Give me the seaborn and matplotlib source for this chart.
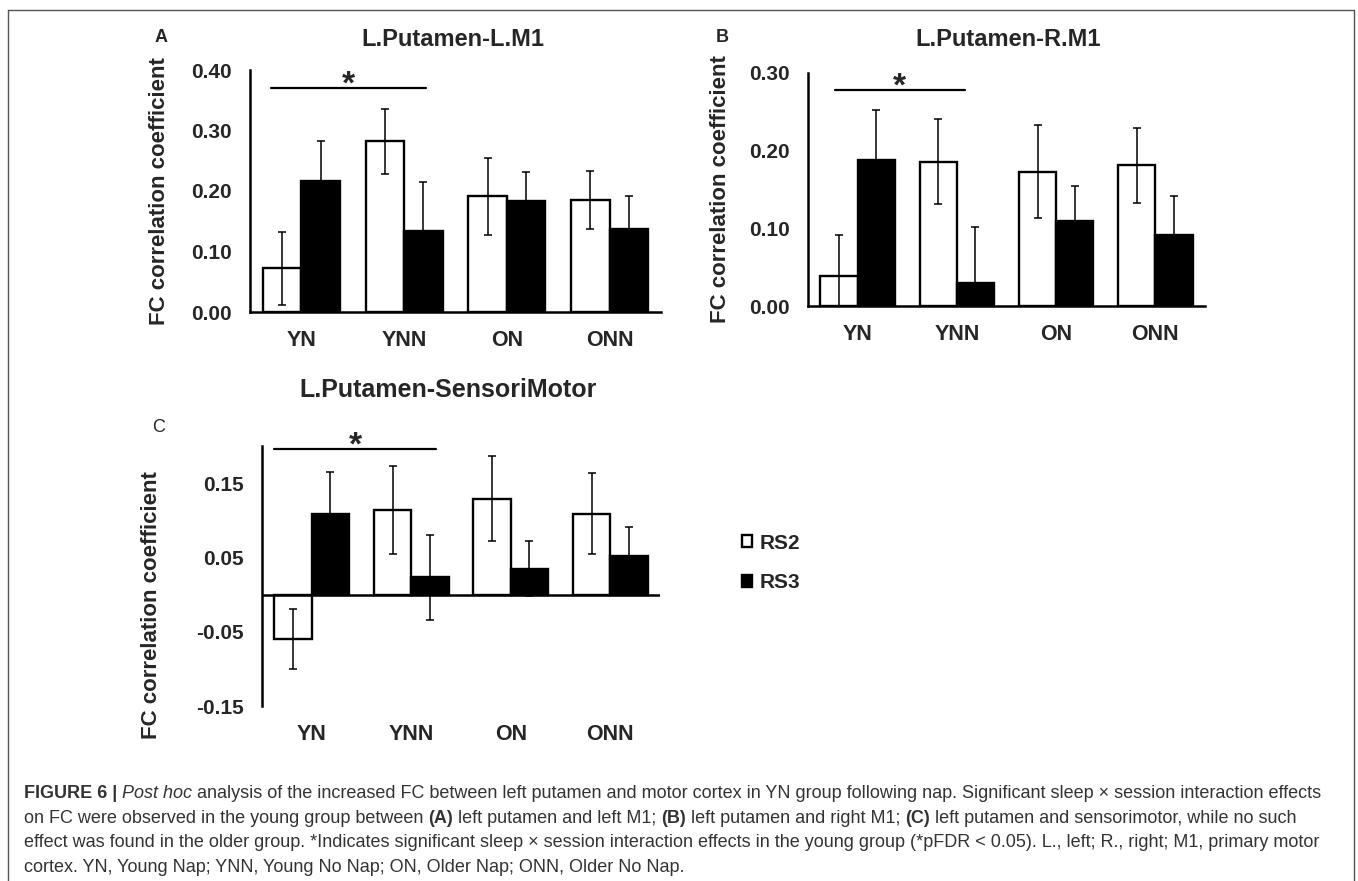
import numpy as np
import pandas as pd
import matplotlib
matplotlib.use('Agg')
import matplotlib.pyplot as plt
from matplotlib.lines import Line2D
import seaborn as sns

groups = ['YN', 'YNN', 'ON', 'ONN']
sessions = ['RS2', 'RS3']

# panel A: L.Putamen-L.M1
a_rs2 = [0.072, 0.282, 0.191, 0.185]
a_rs2_err = [0.060, 0.054, 0.063, 0.048]
a_rs3 = [0.216, 0.134, 0.184, 0.137]
a_rs3_err = [0.066, 0.081, 0.048, 0.055]

# panel B: L.Putamen-R.M1
b_rs2 = [0.038, 0.186, 0.173, 0.181]
b_rs2_err = [0.053, 0.055, 0.060, 0.048]
b_rs3 = [0.188, 0.030, 0.109, 0.092]
b_rs3_err = [0.064, 0.072, 0.046, 0.049]

# panel C: L.Putamen-SensoriMotor
c_rs2 = [-0.060, 0.114, 0.129, 0.109]
c_rs2_err = [0.040, 0.059, 0.057, 0.055]
c_rs3 = [0.109, 0.023, 0.035, 0.052]
c_rs3_err = [0.056, 0.057, 0.037, 0.039]

a_ticks = [0.0, 0.1, 0.2, 0.3, 0.4]
b_ticks = [0.0, 0.1, 0.2, 0.3]
c_ticks = [-0.15, -0.05, 0.05, 0.15]

sns.set_style('white')
plt.rcParams['font.family'] = ['Liberation Sans', 'DejaVu Sans']

W, H = 1358, 881
fig = plt.figure(figsize=(W / 100, H / 100), dpi=100)


def px_axes(left, top, right, bottom):
    return fig.add_axes([left / W, 1 - bottom / H, (right - left) / W, (bottom - top) / H])


def panel(ax, rs2, rs3, err2, err3, ylim, yticks, title, title_xy, title_size, legend=False):
    df = pd.DataFrame({'group': groups * 2,
                       'session': ['RS2'] * 4 + ['RS3'] * 4,
                       'value': rs2 + rs3})
    sns.barplot(data=df, x='group', y='value', hue='session', order=groups,
                hue_order=sessions, palette={'RS2': 'white', 'RS3': 'black'},
                edgecolor='black', linewidth=1.7, width=0.75, errorbar=None,
                legend=legend, ax=ax)
    bars = list(ax.containers)
    for cont, errs in zip(bars, [err2, err3]):
        xs = [b.get_x() + b.get_width() / 2 for b in cont]
        ys = [b.get_height() for b in cont]
        ax.errorbar(xs, ys, yerr=errs, fmt='none', ecolor='black',
                    elinewidth=1.1, capsize=2.6, capthick=1.1, zorder=3)
    ax.set_xlim(-0.5, 3.5)
    ax.set_ylim(*ylim)
    ax.set_yticks(yticks)
    ax.set_yticklabels([f'{t:.2f}' for t in yticks])
    sns.despine(ax=ax)
    ax.spines['left'].set_linewidth(1.8)
    ax.spines['bottom'].set_linewidth(1.8)
    ax.spines['left'].set_color('black')
    ax.spines['bottom'].set_color('black')
    ax.tick_params(axis='y', length=0, pad=13, labelsize=15)
    ax.tick_params(axis='x', length=0, pad=13, labelsize=15.5)
    for lab in ax.get_xticklabels() + ax.get_yticklabels():
        lab.set_fontweight('bold')
    ax.set_xlabel('')
    ax.set_ylabel('FC correlation coefficient', fontsize=16, fontweight='bold')
    ax.text(title_xy[0], title_xy[1], title, transform=ax.transAxes,
            ha='center', va='center', fontsize=title_size, fontweight='bold')


def sig(ax, x0, x1, y):
    ax.plot([x0, x1], [y, y], color='black', lw=1.6, clip_on=False)
    ax.annotate('*', xy=((x0 + x1) / 2, y), xytext=(0, -4), textcoords='offset points',
                ha='center', va='baseline', fontsize=24, fontweight='bold',
                annotation_clip=False)


axA = px_axes(250, 70, 661, 312)
panel(axA, a_rs2, a_rs3, a_rs2_err, a_rs3_err, (0, 0.40), a_ticks,
      'L.Putamen-L.M1', (0.494, 1.124), 17)
axA.yaxis.set_label_coords(-0.195, 0.5)
sig(axA, -0.30, 1.21, 0.37)

axB = px_axes(808, 73, 1205, 306)
panel(axB, b_rs2, b_rs3, b_rs2_err, b_rs3_err, (0, 0.30), b_ticks,
      'L.Putamen-R.M1', (0.504, 1.142), 17)
axB.yaxis.set_label_coords(-0.195, 0.5)
sig(axB, -0.23, 1.08, 0.278)

axC = px_axes(262, 446, 660, 706)
panel(axC, c_rs2, c_rs3, c_rs2_err, c_rs3_err, (-0.15, 0.20), c_ticks,
      'L.Putamen-SensoriMotor', (0.467, 1.215), 18, legend=True)
axC.spines['bottom'].set_visible(False)
axC.axhline(0, color='black', lw=1.8, zorder=4)
axC.yaxis.set_label_coords(-0.251, 0.39)
sig(axC, -0.38, 1.25, 0.196)
sns.move_legend(axC, 'center left', bbox_to_anchor=(1.205, 0.55), frameon=False,
                title=None, prop={'weight': 'bold', 'size': 15},
                handlelength=0.5, handleheight=0.5, handletextpad=0.35,
                labelspacing=1.0, borderpad=0, borderaxespad=0)

fig.text(161 / W, 1 - 37 / H, 'A', fontsize=13, fontweight='bold', ha='center', va='center')
fig.text(722 / W, 1 - 37 / H, 'B', fontsize=13, fontweight='bold', ha='center', va='center')
fig.text(159 / W, 1 - 428 / H, 'C', fontsize=13, ha='center', va='center')

# outer frame
frame_c = '#555555'
for xs, ys in [((8, 8), (10, H)), ((8, 1354), (10, 10)), ((1354, 1354), (10, H))]:
    fig.add_artist(Line2D([x / W for x in xs], [1 - y / H for y in ys],
                          color=frame_c, lw=1.0))

# caption, laid out piece by piece
cap_c = '#333333'
cap_size = 13.0
caption = [
    [('FIGURE 6 | ', 'bold'), ('Post hoc', 'italic'),
     (' analysis of the increased FC between left putamen and motor cortex in YN group '
      'following nap. Significant sleep \u00d7 session interaction effects', 'normal')],
    [('on FC were observed in the young group between ', 'normal'), ('(A)', 'bold'),
     (' left putamen and left M1; ', 'normal'), ('(B)', 'bold'),
     (' left putamen and right M1; ', 'normal'), ('(C)', 'bold'),
     (' left putamen and sensorimotor, while no such', 'normal')],
    [('effect was found in the older group. *Indicates significant sleep \u00d7 session '
      'interaction effects in the young group (*pFDR < 0.05). L., left; R., right; '
      'M1, primary motor', 'normal')],
    [('cortex. YN, Young Nap; YNN, Young No Nap; ON, Older Nap; ONN, Older No Nap.', 'normal')],
]
baselines = [798, 823, 847, 872]
renderer = fig.canvas.get_renderer()
for line, yb in zip(caption, baselines):
    x = 24
    for seg, style in line:
        kw = {'fontweight': 'bold'} if style == 'bold' else {}
        if style == 'italic':
            kw = {'fontstyle': 'italic'}
        t = fig.text(x / W, 1 - yb / H, seg, fontsize=cap_size, color=cap_c,
                     ha='left', va='baseline', **kw)
        x += t.get_window_extent(renderer).width

fig.savefig('out.png', dpi=100)
